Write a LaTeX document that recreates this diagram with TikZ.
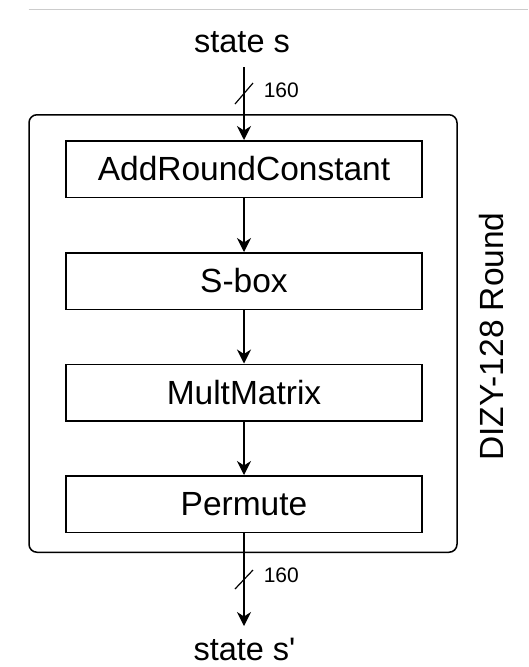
\documentclass[tikz,border=0pt]{standalone}
\usepackage{fontspec}
\setmainfont{Liberation Sans}
\usetikzlibrary{arrows.meta}
\begin{document}
\begin{tikzpicture}[x=1pt,y=-1pt,
  line width=1.5pt,
  stepbox/.style={draw, line width=1.5pt, minimum width=356pt, minimum height=56.5pt, inner sep=0pt, font=\fontsize{33.5}{40}\selectfont},
  bigtext/.style={font=\fontsize{32.5}{39}\selectfont, inner sep=0pt},
  smalltext/.style={font=\fontsize{21}{25}\selectfont, inner sep=0pt},
  arr/.style={-{Stealth[length=14pt,width=14pt,inset=4.5pt]}, line width=1.5pt},
  tick/.style={line width=1.2pt}]
\useasboundingbox (0,0) rectangle (528,667);
\fill[white] (0,0) rectangle (528,667);
\draw[line width=1pt, black!20] (28.5,9.5) -- (528,9.5);
% outer frame
\node[draw, rounded corners=8pt, line width=1.5pt, minimum width=428pt, minimum height=437.5pt, inner sep=0pt] (outer) at (243,333.5) {};
% blocks
\node[stepbox] (arc) at (244,169) {AddRoundConstant};
\node[stepbox] (sbox) at (244,281) {S-box};
\node[stepbox] (mm) at (244,392.5) {MultMatrix};
\node[stepbox] (perm) at (244,504) {Permute};
% labels
\node[bigtext, anchor=base] (sin) at (242,52) {state s};
\node[bigtext, anchor=base] (sout) at (244.5,660.5) {state s\textquotesingle};
\node[bigtext, font=\fontsize{33.5}{40}\selectfont, rotate=90] (title) at (492,336.5) {DIZY-128 Round};
\node[smalltext, anchor=west] (w1) at (263,90.5) {160};
\node[smalltext, anchor=west] (w2) at (263,575.5) {160};
% connectors
\coordinate (inTop) at (244,67);
\coordinate (outTip) at (244,626);
\draw[arr] (inTop) -- (arc.north);
\draw[arr] (arc.south) -- (sbox.north);
\draw[arr] (sbox.south) -- (mm.north);
\draw[arr] (mm.south) -- (perm.north);
\draw[arr] (perm.south) -- (outTip);
% bus width ticks
\draw[tick] (235,104) -- (253,83);
\draw[tick] (235,589) -- (253,570);
\end{tikzpicture}
\end{document}
